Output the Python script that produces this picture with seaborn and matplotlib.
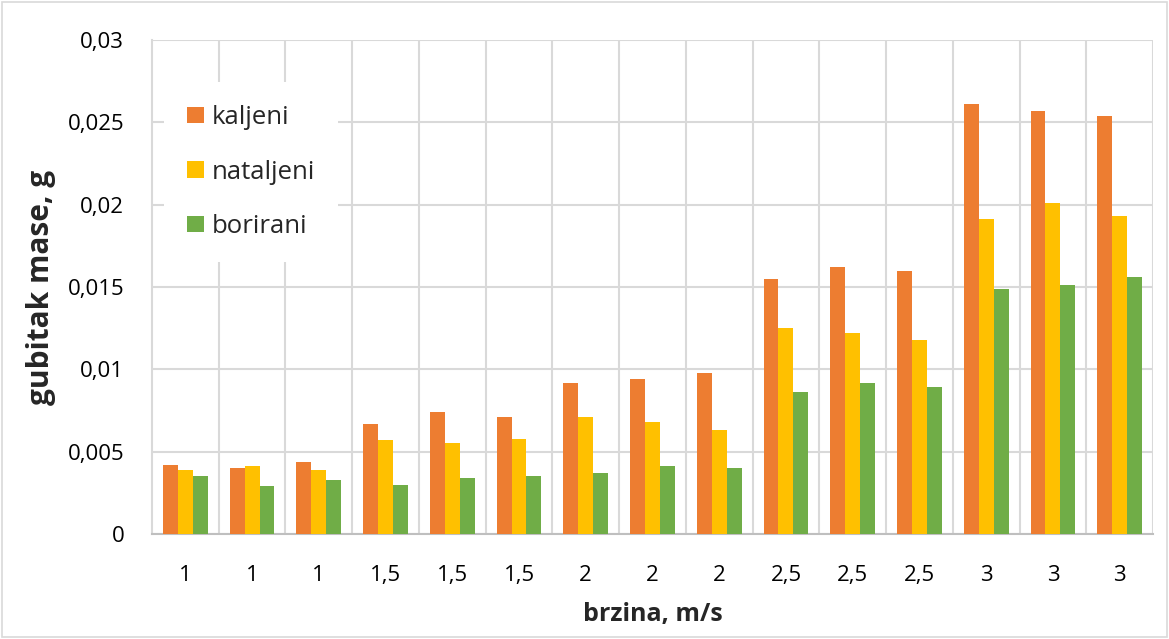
import numpy as np
import pandas as pd
import matplotlib
matplotlib.use("Agg")
import matplotlib.pyplot as plt
import seaborn as sns
from matplotlib.ticker import FuncFormatter, MultipleLocator
from matplotlib.patches import Rectangle

# speed labels (categories repeat, so bars are placed by index)
brzina = ["1", "1", "1", "1,5", "1,5", "1,5", "2", "2", "2",
          "2,5", "2,5", "2,5", "3", "3", "3"]
kaljeni = [0.0042, 0.0040, 0.0044, 0.0067, 0.0074, 0.0071, 0.0092, 0.0094, 0.0098,
           0.0155, 0.0162, 0.0160, 0.0261, 0.0257, 0.0254]
nataljeni = [0.0039, 0.0041, 0.0039, 0.0057, 0.0055, 0.0058, 0.0071, 0.0068, 0.0063,
             0.0125, 0.0122, 0.0118, 0.0191, 0.0201, 0.0193]
borirani = [0.0035, 0.0029, 0.0033, 0.0030, 0.0034, 0.0035, 0.0037, 0.0041, 0.0040,
            0.0086, 0.0092, 0.0089, 0.0149, 0.0151, 0.0156]

series = {"kaljeni": kaljeni, "nataljeni": nataljeni, "borirani": borirani}
colors = ["#ED7D31", "#FFC000", "#70AD47"]

# long format table for seaborn
rows = []
for name, vals in series.items():
    for i, v in enumerate(vals):
        rows.append({"pos": i, "serija": name, "gubitak": v})
df = pd.DataFrame(rows)

sns.set_style("white")
plt.rcParams["font.family"] = ["Open Sans", "DejaVu Sans"]

fig = plt.figure(figsize=(11.69, 6.39), dpi=100)
ax = fig.add_axes([0.130, 0.1643, 0.8563, 0.7731])

sns.barplot(data=df, x="pos", y="gubitak", hue="serija", palette=colors,
            width=0.67, saturation=1, ax=ax, zorder=3, edgecolor="none")

ax.set_ylim(0, 0.03)
ax.set_xlim(-0.5, len(brzina) - 0.5)
ax.yaxis.set_major_locator(MultipleLocator(0.005))
ax.yaxis.set_major_formatter(FuncFormatter(lambda v, p: f"{v:g}".replace(".", ",")))
ax.set_xticks(range(len(brzina)))
ax.set_xticklabels(brzina)
ax.tick_params(axis="both", length=0, labelsize=16, colors="black")
ax.tick_params(axis="x", pad=22)
ax.tick_params(axis="y", pad=20)

# grid: horizontal at ticks, vertical at category borders
ax.grid(axis="y", color="#d9d9d9", lw=1.5, zorder=0)
for k in range(1, len(brzina) + 1):
    ax.axvline(k - 0.5, color="#d9d9d9", lw=1.5, zorder=0)

for s in ["top", "right"]:
    ax.spines[s].set_visible(False)
ax.spines["left"].set_color("#d9d9d9")
ax.spines["left"].set_linewidth(1.5)
ax.spines["bottom"].set_color("#bfbfbf")
ax.spines["bottom"].set_linewidth(1.5)

ax.set_xlabel("brzina, m/s", fontsize=18, fontweight="bold", labelpad=12)
ax.set_ylabel("gubitak mase, g", fontsize=21.5, fontweight="bold", labelpad=8)

leg = ax.legend(loc="upper left", bbox_to_anchor=(0.012, 0.915), frameon=True,
                fontsize=18.5, handlelength=0.66, handleheight=0.62,
                labelspacing=1.15, handletextpad=0.3, borderpad=0.9,
                borderaxespad=0)
leg.get_frame().set_facecolor("white")
leg.get_frame().set_edgecolor("none")
leg.get_frame().set_alpha(1)
leg.set_zorder(5)

# outer chart border
fig.patches.append(Rectangle((0.002, 0.003), 0.996, 0.994, transform=fig.transFigure,
                             fill=False, edgecolor="#d9d9d9", lw=1.2))

fig.savefig("out.png", dpi=100)
